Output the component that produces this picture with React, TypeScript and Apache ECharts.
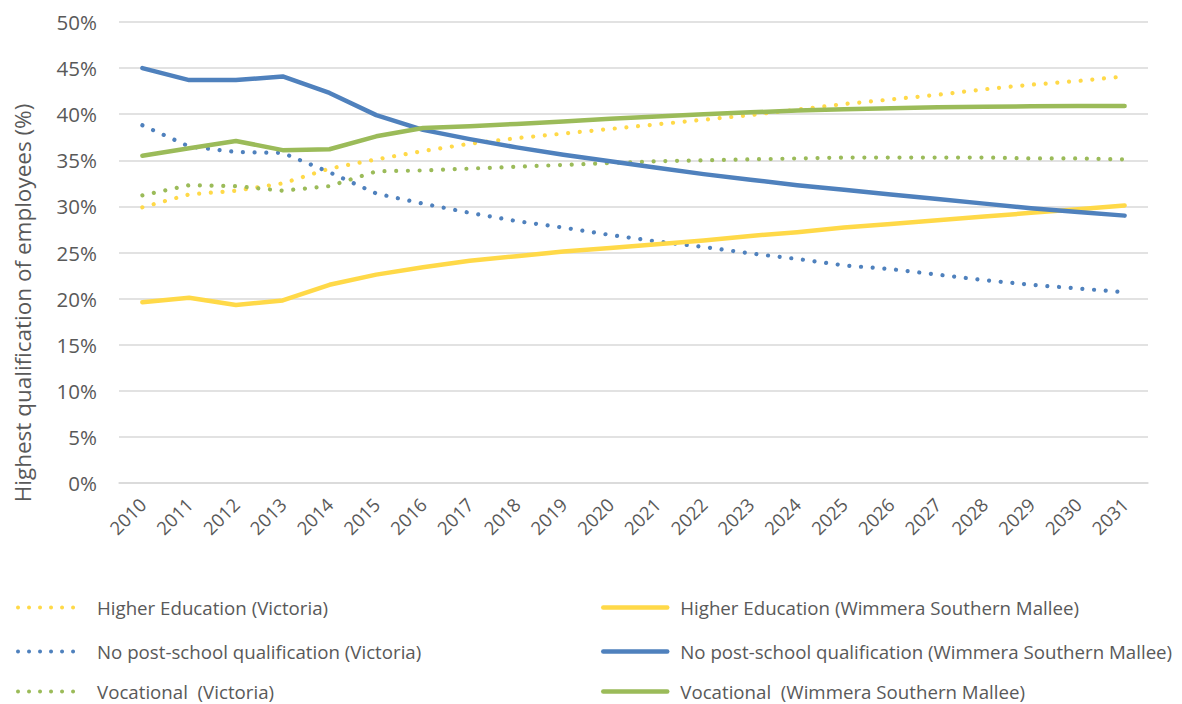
import React, { useEffect, useRef } from "react";
import * as echarts from "echarts";

const years = ["2010","2011","2012","2013","2014","2015","2016","2017","2018","2019","2020","2021","2022","2023","2024","2025","2026","2027","2028","2029","2030","2031"];

const heVic = [29.9,31.3,31.7,32.5,34.1,35.1,36.0,36.8,37.4,37.9,38.4,38.9,39.4,39.9,40.5,41.1,41.6,42.1,42.7,43.2,43.6,44.1];
const heWsm = [19.6,20.1,19.3,19.8,21.5,22.6,23.4,24.1,24.6,25.1,25.5,25.9,26.3,26.8,27.2,27.7,28.1,28.5,28.9,29.3,29.7,30.1];
const npVic = [38.8,36.5,35.9,35.8,33.7,31.4,30.3,29.3,28.4,27.7,26.9,26.2,25.6,24.9,24.3,23.6,23.2,22.6,22.0,21.5,21.1,20.7];
const npWsm = [45.0,43.7,43.7,44.1,42.3,39.9,38.3,37.3,36.4,35.6,34.9,34.2,33.5,32.9,32.3,31.8,31.3,30.8,30.3,29.8,29.4,29.0];
const vocVic = [31.2,32.3,32.2,31.7,32.2,33.8,33.9,34.1,34.3,34.5,34.7,34.9,35.0,35.1,35.2,35.3,35.3,35.3,35.3,35.2,35.2,35.1];
const vocWsm = [35.5,36.3,37.1,36.1,36.2,37.6,38.5,38.7,38.95,39.2,39.5,39.75,40.0,40.2,40.4,40.55,40.65,40.75,40.8,40.85,40.9,40.9];

const names = [
  "Higher Education (Victoria)",
  "No post-school qualification (Victoria)",
  "Vocational  (Victoria)",
  "Higher Education (Wimmera Southern Mallee)",
  "No post-school qualification (Wimmera Southern Mallee)",
  "Vocational  (Wimmera Southern Mallee)",
];

const YELLOW = "#FFD948";
const BLUE = "#4F81BD";
const GREEN = "#9BBB59";
const TEXT = "#595959";
const FONT = "'Open Sans', sans-serif";

export default function App() {
  const ref = useRef<HTMLDivElement>(null);
  useEffect(() => {
    if (!ref.current) return;
    const chart = echarts.init(ref.current, null, { renderer: "svg" });
    const dotted = [0.01, 11.7];
    const mk = (name: string, data: number[], color: string, isDot: boolean) => ({
      name,
      type: "line",
      data,
      symbol: "none",
      smooth: false,
      z: isDot ? 2 : 3,
      lineStyle: isDot
        ? { color, width: 4.2, type: dotted, cap: "round" }
        : { color, width: 4.5, cap: "round", join: "round" },
      itemStyle: { color },
    });
    const series = [
      mk(names[0], heVic, YELLOW, true),
      mk(names[1], npVic, BLUE, true),
      mk(names[2], vocVic, GREEN, true),
      mk(names[3], heWsm, YELLOW, false),
      mk(names[4], npWsm, BLUE, false),
      mk(names[5], vocWsm, GREEN, false),
    ];
    const colors = [YELLOW, BLUE, GREEN];
    const rowsTop = [598, 642, 682];
    const legends = names.map((n, i) => {
      const isDot = i < 3;
      return {
        data: [n],
        left: isDot ? 16 : 601,
        top: rowsTop[i % 3],
        itemWidth: isDot ? 60 : 64,
        itemHeight: 20,
        itemGap: 0,
        padding: 0,
        selectedMode: false,
        textStyle: { color: TEXT, fontSize: 18.7, fontFamily: FONT, padding: [0, 0, 0, isDot ? 14 : 8] },
        lineStyle: isDot
          ? { color: colors[i % 3], width: 4, type: [0.01, 11], cap: "round" }
          : { color: colors[i % 3], width: 4.5, cap: "round" },
        itemStyle: { color: colors[i % 3], opacity: 0 },
      };
    });
    chart.setOption({
      animation: false,
      backgroundColor: "#ffffff",
      textStyle: { fontFamily: FONT },
      grid: { left: 119, right: 34, top: 22, bottom: 221, containLabel: false },
      legend: legends,
      xAxis: {
        type: "category",
        data: years,
        boundaryGap: true,
        axisLine: { show: true, lineStyle: { color: "#D9D9D9", width: 1.5 } },
        axisTick: { show: false },
        axisLabel: { rotate: 45, color: TEXT, fontSize: 18.5, fontFamily: FONT, margin: 18, interval: 0 },
      },
      yAxis: {
        type: "value",
        min: 0,
        max: 50,
        interval: 5,
        axisLine: { show: false },
        axisTick: { show: false },
        splitLine: { lineStyle: { color: "#D9D9D9", width: 1.5 } },
        axisLabel: { color: TEXT, fontSize: 20.5, fontFamily: FONT, margin: 22, formatter: "{value}%" },
      },
      graphic: [
        {
          type: "text",
          x: 22,
          y: 303,
          rotation: Math.PI / 2,
          style: {
            text: "Highest qualification of employees (%)",
            fill: TEXT,
            font: `22.5px ${FONT}`,
            align: "center",
            verticalAlign: "middle",
          },
        },
      ],
      series,
    });
    return () => chart.dispose();
  }, []);
  return <div ref={ref} style={{ width: 1182, height: 704, position: "absolute", left: 0, top: 0 }} />;
}
